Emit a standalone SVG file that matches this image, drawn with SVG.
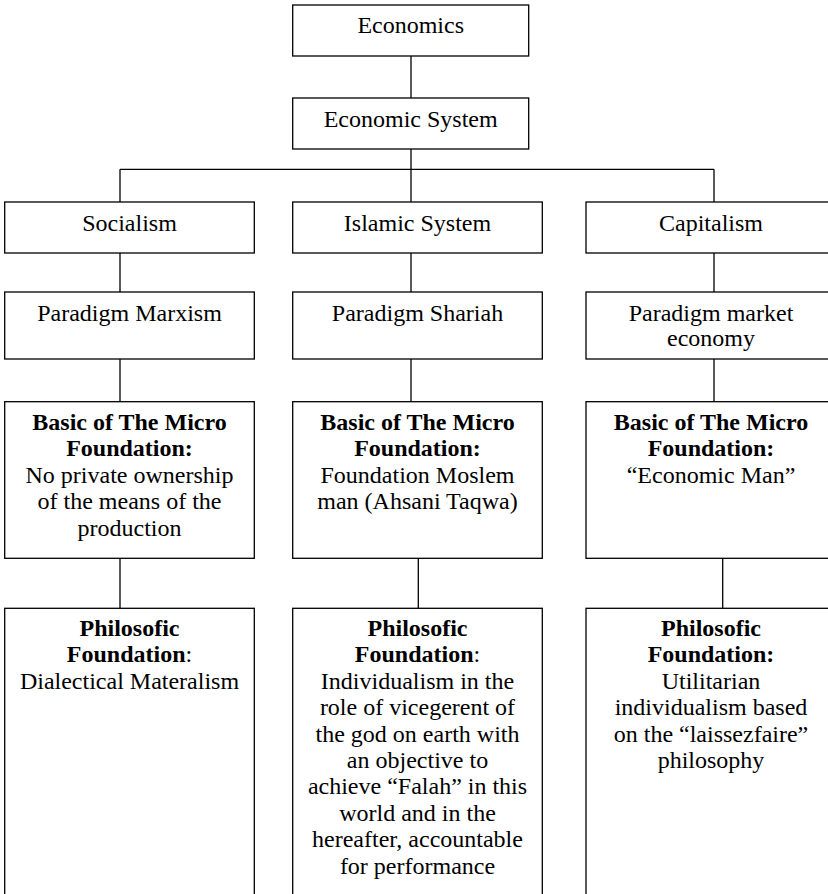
<svg xmlns="http://www.w3.org/2000/svg" width="828" height="894" viewBox="0 0 828 894">
<rect x="0" y="0" width="828" height="894" fill="#fff"/>
<g id="connectors" stroke="#000" stroke-width="1.3">
<line x1="411" y1="56" x2="411" y2="98"/>
<line x1="411" y1="149" x2="411" y2="202"/>
<line x1="120" y1="169.3" x2="714" y2="169.3"/>
<line x1="120" y1="169.3" x2="120" y2="202"/>
<line x1="714" y1="169.3" x2="714" y2="202"/>
<line x1="120" y1="253" x2="120" y2="292"/>
<line x1="411" y1="253" x2="411" y2="292"/>
<line x1="714" y1="253" x2="714" y2="292"/>
<line x1="120" y1="359" x2="120" y2="402"/>
<line x1="411" y1="359" x2="411" y2="402"/>
<line x1="714" y1="359" x2="714" y2="402"/>
<line x1="120" y1="558.3" x2="120" y2="608.3"/>
<line x1="418.3" y1="558.3" x2="418.3" y2="608.3"/>
<line x1="722.7" y1="558.3" x2="722.7" y2="608.3"/>
</g>
<g fill="#fff" stroke="#000" stroke-width="1.3">
<rect id="box-economics" x="292.7" y="5" width="236" height="51"/>
<rect id="box-economic-system" x="292.7" y="98" width="236" height="51"/>
<rect id="box-socialism" x="4.7" y="202" width="249.6" height="51"/>
<rect id="box-islamic-system" x="292.7" y="202" width="249.6" height="51"/>
<rect id="box-capitalism" x="586" y="202" width="250" height="51"/>
<rect id="box-paradigm-marxism" x="4.7" y="292" width="249.6" height="67"/>
<rect id="box-paradigm-shariah" x="292.7" y="292" width="249.6" height="67"/>
<rect id="box-paradigm-market" x="586" y="292" width="250" height="67"/>
<rect id="box-micro-socialism" x="4.7" y="401.7" width="249.6" height="156.6"/>
<rect id="box-micro-islamic" x="292.7" y="401.7" width="249.6" height="156.6"/>
<rect id="box-micro-capitalism" x="586" y="401.7" width="250" height="156.6"/>
<rect id="box-philo-socialism" x="4.7" y="608.3" width="249.6" height="300"/>
<rect id="box-philo-islamic" x="292.7" y="608.3" width="249.6" height="300"/>
<rect id="box-philo-capitalism" x="586" y="608.3" width="250" height="300"/>
</g>
<g id="economics">
<text font-family="Liberation Serif, serif" font-size="24" text-anchor="middle" x="410.7" y="33.3">Economics</text>
</g>
<g id="economic-system">
<text font-family="Liberation Serif, serif" font-size="24" text-anchor="middle" x="410.7" y="126.7">Economic System</text>
</g>
<g id="socialism">
<text font-family="Liberation Serif, serif" font-size="24" text-anchor="middle" x="129.5" y="230.7">Socialism</text>
</g>
<g id="islamic-system">
<text font-family="Liberation Serif, serif" font-size="24" text-anchor="middle" x="417.5" y="230.7">Islamic System</text>
</g>
<g id="capitalism">
<text font-family="Liberation Serif, serif" font-size="24" text-anchor="middle" x="711" y="230.7">Capitalism</text>
</g>
<g id="paradigm-marxism">
<text font-family="Liberation Serif, serif" font-size="24" text-anchor="middle" x="129.5" y="320.7">Paradigm Marxism</text>
</g>
<g id="paradigm-shariah">
<text font-family="Liberation Serif, serif" font-size="24" text-anchor="middle" x="417.5" y="320.7">Paradigm Shariah</text>
</g>
<g id="paradigm-market">
<text font-family="Liberation Serif, serif" font-size="24" text-anchor="middle" x="711" y="321"><tspan x="711">Paradigm market</tspan><tspan x="711" dy="25">economy</tspan></text>
</g>
<g id="micro-socialism">
<text font-family="Liberation Serif, serif" font-size="24" text-anchor="middle" x="129.5" y="430"><tspan font-weight="bold" x="129.5">Basic of The Micro</tspan><tspan font-weight="bold" x="129.5" dy="26.4">Foundation:</tspan><tspan x="129.5" dy="26.4">No private ownership</tspan><tspan x="129.5" dy="26.4">of the means of the</tspan><tspan x="129.5" dy="26.4">production</tspan></text>
</g>
<g id="micro-islamic">
<text font-family="Liberation Serif, serif" font-size="24" text-anchor="middle" x="417.5" y="430"><tspan font-weight="bold" x="417.5">Basic of The Micro</tspan><tspan font-weight="bold" x="417.5" dy="26.4">Foundation:</tspan><tspan x="417.5" dy="26.4">Foundation Moslem</tspan><tspan x="417.5" dy="26.4">man (Ahsani Taqwa)</tspan></text>
</g>
<g id="micro-capitalism">
<text font-family="Liberation Serif, serif" font-size="24" text-anchor="middle" x="711" y="430"><tspan font-weight="bold" x="711">Basic of The Micro</tspan><tspan font-weight="bold" x="711" dy="26.4">Foundation:</tspan><tspan x="711" dy="26.4">“Economic Man”</tspan></text>
</g>
<g id="philo-socialism">
<text font-family="Liberation Serif, serif" font-size="24" text-anchor="middle" x="129.5" y="636"><tspan font-weight="bold" x="129.5">Philosofic</tspan><tspan x="129.5" dy="26.4"><tspan font-weight="bold">Foundation</tspan>:</tspan><tspan x="129.5" dy="26.4">Dialectical Materalism</tspan></text>
</g>
<g id="philo-islamic">
<text font-family="Liberation Serif, serif" font-size="24" text-anchor="middle" x="417.5" y="636"><tspan font-weight="bold" x="417.5">Philosofic</tspan><tspan x="417.5" dy="26.4"><tspan font-weight="bold">Foundation</tspan>:</tspan><tspan x="417.5" dy="26.4">Individualism in the</tspan><tspan x="417.5" dy="26.4">role of vicegerent of</tspan><tspan x="417.5" dy="26.4">the god on earth with</tspan><tspan x="417.5" dy="26.4">an objective to</tspan><tspan x="417.5" dy="26.4">achieve “Falah” in this</tspan><tspan x="417.5" dy="26.4">world and in the</tspan><tspan x="417.5" dy="26.4">hereafter, accountable</tspan><tspan x="417.5" dy="26.4">for performance</tspan></text>
</g>
<g id="philo-capitalism">
<text font-family="Liberation Serif, serif" font-size="24" text-anchor="middle" x="711" y="636"><tspan font-weight="bold" x="711">Philosofic</tspan><tspan font-weight="bold" x="711" dy="26.4">Foundation:</tspan><tspan x="711" dy="26.4">Utilitarian</tspan><tspan x="711" dy="26.4">individualism based</tspan><tspan x="711" dy="26.4">on the “laissezfaire”</tspan><tspan x="711" dy="26.4">philosophy</tspan></text>
</g>
</svg>
